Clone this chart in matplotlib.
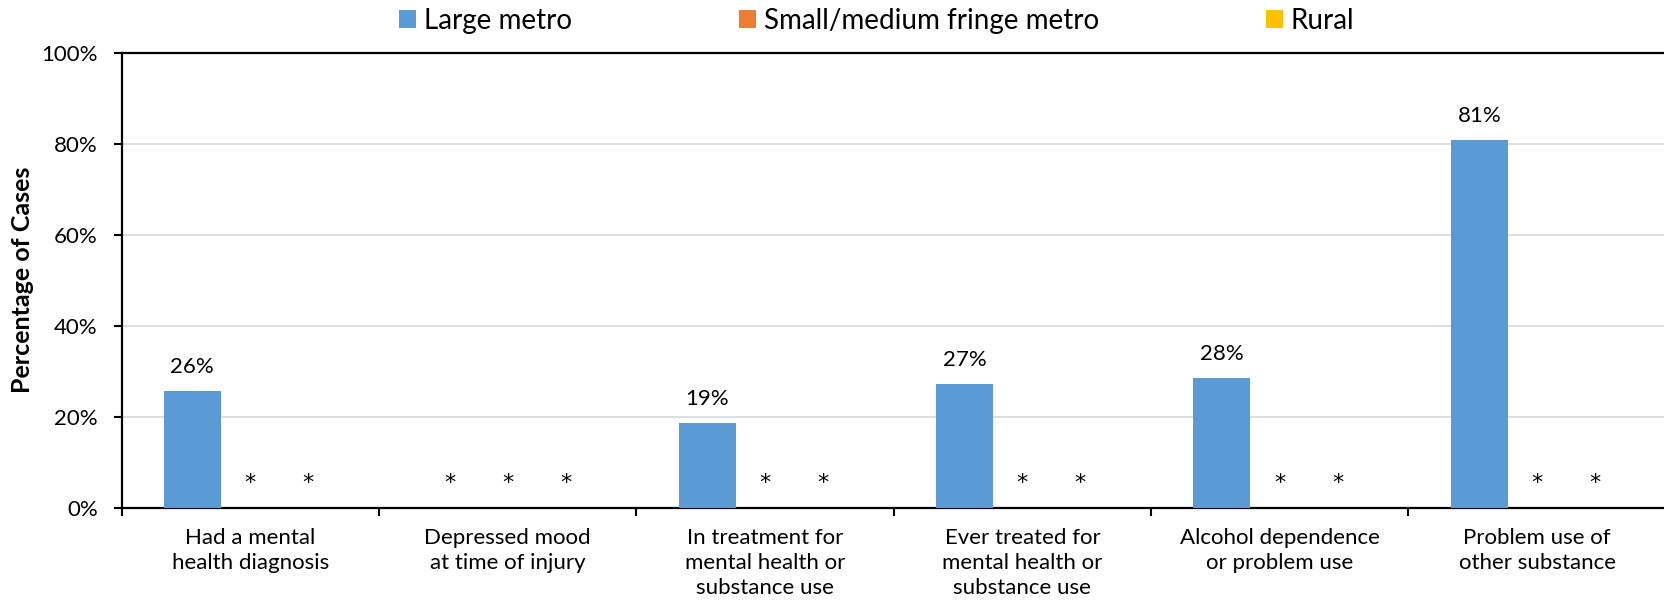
import numpy as np
import matplotlib.pyplot as plt

plt.rcParams['font.family'] = ['Lato', 'DejaVu Sans']

categories = ["Had a mental\nhealth diagnosis", "Depressed mood\nat time of injury",
              "In treatment for\nmental health or\nsubstance use",
              "Ever treated for\nmental health or\nsubstance use",
              "Alcohol dependence\nor problem use", "Problem use of\nother substance"]
series_names = ["Large metro", "Small/medium fringe metro", "Rural"]
# None = suppressed value, shown as "*"
large_metro = [25.7, None, 18.6, 27.1, 28.4, 80.8]
small_medium = [None, None, None, None, None, None]
rural = [None, None, None, None, None, None]
yticks = [0, 20, 40, 60, 80, 100]

colors = ["#5B9BD5", "#ED7D31", "#FFC000"]

W, H = 1664, 608
fig = plt.figure(figsize=(W / 100, H / 100), dpi=100)
ax = fig.add_axes([121.5 / W, 1 - 507.5 / H, 6 * 257.4 / W, 454.5 / H])

x = np.arange(len(categories))
bw = 0.222
step = 0.225
handles = []
for i, (vals, name, c) in enumerate(zip([large_metro, small_medium, rural], series_names, colors)):
    h = [v if v is not None else 0 for v in vals]
    pos = x + (i - 1) * step
    b = ax.bar(pos, h, width=bw, color=c, zorder=3, label=name)
    handles.append(b)
    for p, v in zip(pos, vals):
        if v is None:
            # suppressed: star sits just above the baseline
            ax.annotate("*", (p, 0), xytext=(0, 13), textcoords='offset points',
                        ha='center', va='baseline', fontsize=16, family='DejaVu Sans')
        else:
            ax.annotate(f"{v:.0f}%", (p, v), xytext=(0, 13), textcoords='offset points',
                        ha='center', va='baseline', fontsize=16)

ax.set_xlim(-0.5, len(categories) - 0.5)
ax.set_ylim(0, 100)
ax.set_yticks(yticks)
ax.set_yticklabels([f"{t}%" for t in yticks])
ax.grid(axis='y', color='#D9D9D9', linewidth=1.2, zorder=0)
ax.set_axisbelow(True)

ax.set_xticks(x)
ax.set_xticklabels(categories, fontsize=16, linespacing=1.3)
ax.set_xticks(np.arange(-0.5, len(categories)), minor=True)
ax.tick_params(axis='x', which='major', length=0, pad=15)
ax.tick_params(axis='x', which='minor', length=6, width=1.5, direction='out')
ax.tick_params(axis='y', length=6, width=1.5, direction='out', pad=11, labelsize=16)

for s in ['left', 'bottom', 'top']:
    ax.spines[s].set_linewidth(1.6)
    ax.spines[s].set_color('black')
ax.spines['right'].set_visible(False)

fig.text(23 / W, 1 - 280 / H, "Percentage of Cases", rotation=90, ha='center', va='center',
         fontsize=18, fontweight='bold')

fig.legend(handles=handles, labels=series_names, loc='center', bbox_to_anchor=(0.527, 1 - 21 / H),
           ncol=3, frameon=False, fontsize=20, handlelength=0.6, handleheight=0.6,
           handletextpad=0.3, columnspacing=6.0)

fig.savefig("out.png", dpi=100)
